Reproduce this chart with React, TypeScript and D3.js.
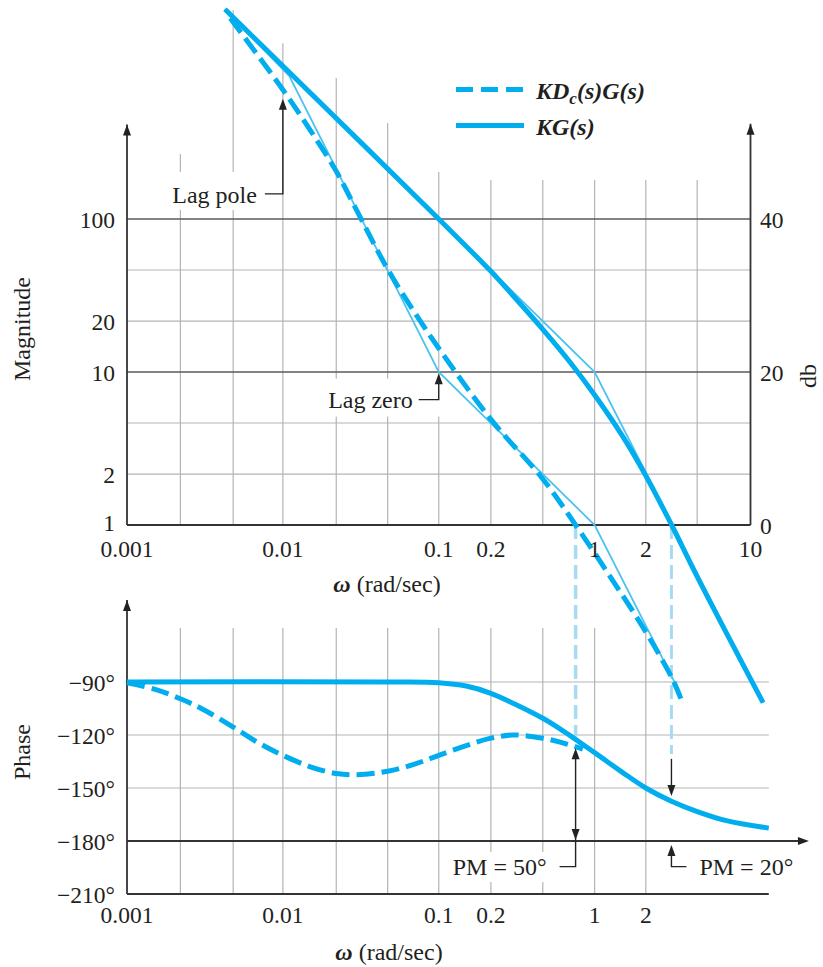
import React from "react";
import * as d3 from "d3";

// frequency grid, 3 lines per decade as drawn in the figure
const freqGrid = [0.001, 0.0022, 0.0048, 0.01, 0.022, 0.047, 0.1, 0.216, 0.465, 1, 2.13, 4.55, 10];
// magnitude at which each vertical grid line of the upper plot stops (null = axis)
const freqGridTop = [null, 266, 2320, 1410, 835, 424, 203, 180, 180, 180, 180, 180, null];
const freqTicksTop: [number, string][] = [
  [0.001, "0.001"], [0.01, "0.01"], [0.1, "0.1"], [0.216, "0.2"], [1, "1"], [2.13, "2"], [10, "10"],
];
const freqTicksBottom: [number, string][] = [
  [0.001, "0.001"], [0.01, "0.01"], [0.1, "0.1"], [0.216, "0.2"], [1, "1"], [2.13, "2"],
];
const magGrid = [2.15, 4.64, 10, 21.5, 46.4, 100];
const magDark = [10, 100];
const magTicks: [number, string][] = [[100, "100"], [21.5, "20"], [10, "10"], [2.15, "2"]];
const dbTicks = [40, 20, 0];
const phaseGrid = [-90, -120, -150];
const phaseTicks = [-90, -120, -150, -180, -210];

// KG(s) magnitude (thick solid)
const kgMagW = [0.00425, 0.01, 0.1, 0.216, 0.3, 0.465, 0.7, 1, 1.5, 2.13, 3.12, 4.6, 12.05];
const kgMag = [2350, 1000, 100, 45.5, 31.5, 19, 11.5, 7.07, 3.85, 2.1, 1.0, 0.45, 0.069];
// KDc(s)G(s) magnitude (thick dashed)
const kdgMagW = [0.0046, 0.01, 0.015, 0.022, 0.03, 0.047, 0.07, 0.1, 0.216, 0.465, 0.755, 1.285, 2.13, 3.15, 3.6];
const kdgMag = [2050, 700, 380, 205, 112, 47, 24.5, 14.3, 4.9, 2.0, 1.0, 0.445, 0.2, 0.099, 0.072];
// straight-line asymptotes (thin)
const kgAsymW = [0.00425, 1, 12.05];
const kgAsym = [2350, 10, 0.069];
const kdgAsymW = [0.00425, 0.011, 0.1, 1, 3.6];
const kdgAsym = [2350, 860, 10, 1, 0.077];

// phase curves
const kgPhW = [0.001, 0.05, 0.1, 0.15, 0.216, 0.3, 0.465, 0.6, 1, 1.5, 2.13, 3.11, 4.6, 7, 13.1];
const kgPh = [-90, -90, -90.4, -92.3, -96.4, -102, -110.5, -116.5, -130, -141, -150, -157.5, -163.5, -168.5, -172.7];
const kdgPhW = [0.001, 0.0015, 0.0022, 0.003, 0.0048, 0.007, 0.01, 0.015, 0.022, 0.03, 0.047, 0.07, 0.1, 0.15, 0.216, 0.3, 0.465, 0.6, 0.84];
const kdgPh = [-90.5, -94, -99.5, -105, -115.5, -124.5, -131.5, -138, -141.8, -142.5, -140.5, -136.5, -131.5, -126, -121.8, -120, -121.8, -124, -128];

const BLUE = "#00aeef";
const THIN = "#4cc2f0";
const PALE = "#a6dbf3";
const INK = "#231f20";
const GRID = "#b4b4b4";
const DARK = "#5a5a5a";
const FONT = "'Liberation Serif', 'Times New Roman', serif";

const zip = (a: number[], b: number[]) => a.map((v, i) => [v, b[i]] as [number, number]);

export default function App() {
  const x = d3.scaleLog().domain([0.001, 10]).range([127, 750.5]);
  const yMag = d3.scaleLog().domain([1, 100]).range([525, 219]);
  const yDb = d3.scaleLinear().domain([0, 40]).range([525, 219]);
  const yPh = d3.scaleLinear().domain([-210, -90]).range([894, 682]);

  const smooth = d3.curveCatmullRom.alpha(0.5);
  const magLine = d3.line<[number, number]>().x((d) => x(d[0])).y((d) => yMag(d[1])).curve(smooth);
  const asymLine = d3.line<[number, number]>().x((d) => x(d[0])).y((d) => yMag(d[1]));
  const phLine = d3.line<[number, number]>().x((d) => x(d[0])).y((d) => yPh(d[1])).curve(smooth);

  const x0 = x(0.001);
  const x10 = x(10);
  const yOne = yMag(1);
  const phRight = x(13.1);
  const phArrow = x(23.7);

  const arrowV = (ax: number, ay: number, dir: number) =>
    `M${ax},${ay}L${ax - 4},${ay - dir * 11}L${ax + 4},${ay - dir * 11}Z`;
  const arrowH = (ax: number, ay: number) => `M${ax},${ay}L${ax - 11},${ay - 4}L${ax - 11},${ay + 4}Z`;

  // annotations
  const lpX = x(0.01), lpTip = yMag(610), lpCorner = yMag(146);
  const lzX = x(0.1), lzTip = yMag(9.8), lzCorner = yMag(6.6);
  const pm50X = x(0.755), pm20X = x(3.11);
  const pmFoot = yPh(-194.5);

  const tickText = { fontFamily: FONT, fontSize: 23.5, fill: INK } as const;

  return (
    <svg width={823} height={967} style={{ position: "absolute", left: 0, top: 0, background: "#fff" }}>
      {/* upper grid */}
      <g>
        {freqGrid.map((f, i) =>
          freqGridTop[i] == null ? null : (
            <line key={"vg" + i} x1={x(f)} x2={x(f)} y1={yOne} y2={yMag(freqGridTop[i] as number)} stroke={GRID} strokeWidth={1.2} />
          )
        )}
        {magGrid.map((m) => (
          <line key={"hg" + m} x1={x0} x2={x10} y1={yMag(m)} y2={yMag(m)}
            stroke={magDark.includes(m) ? DARK : GRID} strokeWidth={magDark.includes(m) ? 1.6 : 1.2} />
        ))}
      </g>
      {/* lower grid */}
      <g>
        {freqGrid.slice(1, 11).map((f) => (
          <line key={"pv" + f} x1={x(f)} x2={x(f)} y1={yPh(-210)} y2={yPh(-59.5)} stroke={GRID} strokeWidth={1.2} />
        ))}
        {phaseGrid.map((p) => (
          <line key={"ph" + p} x1={x0} x2={phRight} y1={yPh(p)} y2={yPh(p)} stroke={GRID} strokeWidth={1.2} />
        ))}
      </g>

      {/* label backgrounds (break the grid) */}
      <rect x={162} y={lpCorner - 22} width={lpX - 26 - 162 + 8} height={38} fill="#fff" />
      <rect x={316} y={lzCorner - 21} width={lzX + 4 - 316} height={38} fill="#fff" />
      <rect x={pm50X - 130} y={852} width={112} height={30} fill="#fff" />

      {/* axes */}
      <g stroke="#333" strokeWidth={1.8} fill="none">
        <line x1={x0} x2={x10} y1={yOne} y2={yOne} />
        <line x1={x0} x2={x0} y1={yOne} y2={yMag(415)} />
        <line x1={x10} x2={x10} y1={yOne} y2={yMag(420)} />
        <line x1={x0} x2={phRight} y1={yPh(-210)} y2={yPh(-210)} />
        <line x1={x0} x2={phArrow - 4} y1={yPh(-180)} y2={yPh(-180)} />
        <line x1={x0} x2={x0} y1={yPh(-210)} y2={yPh(-43.6)} />
      </g>
      <g fill="#222">
        <path d={arrowV(x0, yMag(415), -1)} />
        <path d={arrowV(x10, yMag(420), -1)} />
        <path d={arrowV(x0, yPh(-43.6), -1)} />
        <path d={arrowH(phArrow, yPh(-180))} />
      </g>

      {/* crossover guides */}
      <line x1={pm50X} x2={pm50X} y1={yOne} y2={yPh(-121)} stroke={PALE} strokeWidth={3.5} strokeDasharray="14,6" />
      <line x1={pm20X} x2={pm20X} y1={yOne} y2={yPh(-130.7)} stroke={PALE} strokeWidth={3} strokeDasharray="14,6" />

      {/* asymptotes */}
      <path d={asymLine(zip(kgAsymW, kgAsym)) || ""} fill="none" stroke={THIN} strokeWidth={1.8} />
      <path d={asymLine(zip(kdgAsymW, kdgAsym)) || ""} fill="none" stroke={THIN} strokeWidth={1.8} />

      {/* magnitude curves */}
      <path d={magLine(zip(kgMagW, kgMag)) || ""} fill="none" stroke={BLUE} strokeWidth={5} />
      <path d={magLine(zip(kdgMagW, kdgMag)) || ""} fill="none" stroke={BLUE} strokeWidth={5} strokeDasharray="18,7" />

      {/* phase curves */}
      <path d={phLine(zip(kgPhW, kgPh)) || ""} fill="none" stroke={BLUE} strokeWidth={5} />
      <path d={phLine(zip(kdgPhW, kdgPh)) || ""} fill="none" stroke={BLUE} strokeWidth={5} strokeDasharray="18,7" />

      {/* annotations */}
      <g stroke="#222" strokeWidth={1.4} fill="none">
        <polyline points={`${lpX - 18},${lpCorner} ${lpX},${lpCorner} ${lpX},${lpTip + 8}`} />
        <polyline points={`${lzX - 20},${lzCorner} ${lzX},${lzCorner} ${lzX},${lzTip + 8}`} />
        <polyline points={`${pm50X},${yPh(-127.5) + 8} ${pm50X},${pmFoot} ${pm50X - 16},${pmFoot}`} />
        <line x1={pm20X} x2={pm20X} y1={yPh(-133.5)} y2={yPh(-154.5) - 8} />
        <polyline points={`${pm20X},${yPh(-182.2) + 8} ${pm20X},${pmFoot} ${pm20X + 15},${pmFoot}`} />
      </g>
      <g fill="#222">
        <path d={arrowV(lpX, lpTip, -1)} />
        <path d={arrowV(lzX, lzTip, -1)} />
        <path d={arrowV(pm50X, yPh(-127.5), -1)} />
        <path d={arrowV(pm50X, yPh(-179.5), 1)} />
        <path d={arrowV(pm20X, yPh(-154.5), 1)} />
        <path d={arrowV(pm20X, yPh(-182.2), -1)} />
      </g>
      <g {...tickText} fontSize={24}>
        <text x={lpX - 26} y={lpCorner + 9} textAnchor="end">Lag pole</text>
        <text x={lzX - 26} y={lzCorner + 8} textAnchor="end">Lag zero</text>
        <text x={pm50X - 29} y={pmFoot + 8} textAnchor="end">PM = 50°</text>
        <text x={pm20X + 28} y={pmFoot + 8}>PM = 20°</text>
      </g>

      {/* tick labels */}
      <g {...tickText}>
        {magTicks.map(([m, s]) => (
          <text key={"mt" + s} x={115} y={yMag(m) + 8.5} textAnchor="end">{s}</text>
        ))}
        <text x={115} y={yOne + 6} textAnchor="end">1</text>
        {dbTicks.map((d) => (
          <text key={"db" + d} x={760} y={yDb(d) + 9}>{d}</text>
        ))}
        {freqTicksTop.map(([f, s]) => (
          <text key={"ft" + s} x={x(f)} y={557} textAnchor="middle">{s}</text>
        ))}
        {freqTicksBottom.map(([f, s]) => (
          <text key={"fb" + s} x={x(f)} y={923} textAnchor="middle">{s}</text>
        ))}
        {phaseTicks.map((p) => (
          <text key={"pt" + p} x={115} y={yPh(p) + 8.5} textAnchor="end">{`\u2212${-p}°`}</text>
        ))}
      </g>

      {/* axis titles */}
      <g fontFamily={FONT} fontSize={24} fill={INK}>
        <text x={387} y={591.5} textAnchor="middle">
          <tspan fontStyle="italic" fontWeight="bold">ω</tspan> (rad/sec)
        </text>
        <text x={389} y={960} textAnchor="middle">
          <tspan fontStyle="italic" fontWeight="bold">ω</tspan> (rad/sec)
        </text>
        <text transform="translate(30,329) rotate(-90)" textAnchor="middle">Magnitude</text>
        <text transform="translate(30,752) rotate(-90)" textAnchor="middle">Phase</text>
        <text transform="translate(816,376) rotate(-90)" textAnchor="middle">db</text>
      </g>

      {/* legend */}
      <line x1={456} x2={524} y1={89.5} y2={89.5} stroke={BLUE} strokeWidth={5} strokeDasharray="17,8" />
      <line x1={456} x2={524} y1={125.5} y2={125.5} stroke={BLUE} strokeWidth={5} />
      <g fontFamily={FONT} fontSize={24} fill={INK} fontStyle="italic" fontWeight="bold">
        <text x={536} y={99}>
          KD<tspan dy={5} fontSize={17}>c</tspan><tspan dy={-5}>(s)G(s)</tspan>
        </text>
        <text x={536} y={135}>KG(s)</text>
      </g>
    </svg>
  );
}
